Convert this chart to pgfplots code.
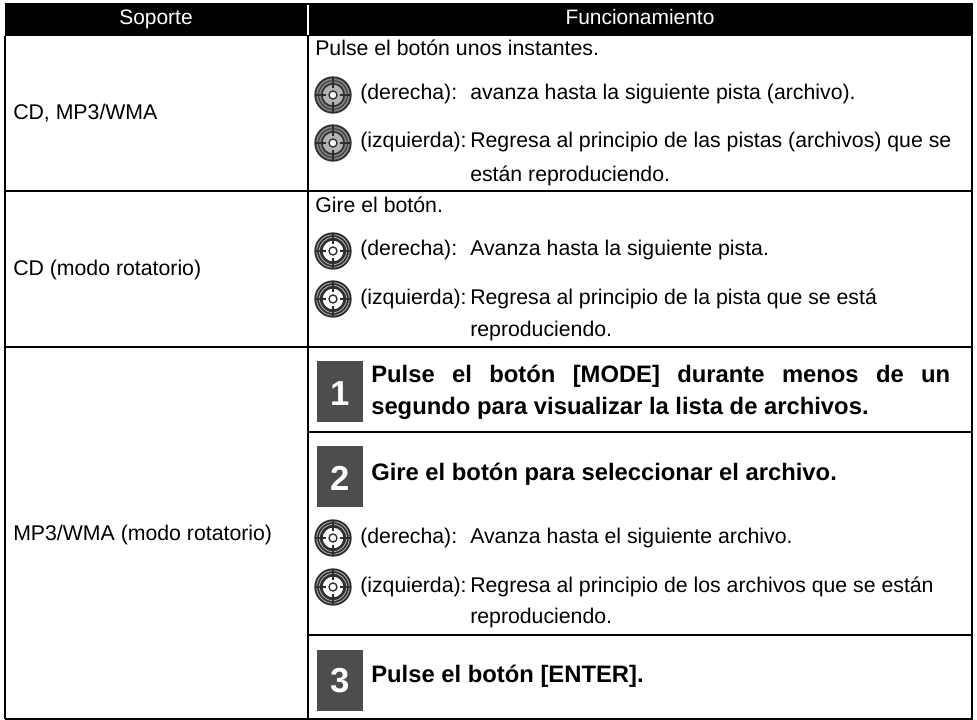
\documentclass[border=0pt]{standalone}
\usepackage{pgfplots}
\usepackage{fontspec}
\setmainfont{Liberation Sans}
\pgfplotsset{compat=1.18}
\definecolor{sq}{HTML}{4D4D4D}
\definecolor{ringd}{HTML}{2E2E2E}
\definecolor{ringg}{HTML}{7F7F7F}
\definecolor{ringl}{HTML}{B5B5B5}
\newcommand{\T}[3]{\node[anchor=base west,inner sep=0pt,font=\fontsize{15.95pt}{18pt}\selectfont,text=black] at (axis cs:#1,#2) {#3};}
\newcommand{\B}[3]{\node[anchor=base west,inner sep=0pt,font=\fontsize{17.85pt}{20pt}\selectfont\bfseries,text=black] at (axis cs:#1,#2) {#3};}
\newcommand{\Num}[2]{\node[anchor=base,inner sep=0pt,font=\fontsize{26pt}{28pt}\selectfont\bfseries,text=white] at (axis cs:340,#1) {#2};}
% grey-ringed icon (first row)
\newcommand{\IconG}[1]{%
 \fill[ringd] (axis cs:333,#1) circle[radius=14pt];
 \fill[ringg] (axis cs:333,#1) circle[radius=12.6pt];
 \draw[ringd,line width=0.6pt] (axis cs:333,#1) circle[radius=10.8pt];
 \fill[gray!60,draw=ringd,line width=1.2pt] (axis cs:333,#1) circle[radius=8.4pt];
 \IconMarks{#1}
}
% dark-ringed icon (other rows)
\newcommand{\IconD}[1]{%
 \fill[ringd] (axis cs:333,#1) circle[radius=14pt];
 \draw[ringl,line width=0.6pt] (axis cs:333,#1) circle[radius=12.2pt];
 \draw[ringl,line width=0.6pt] (axis cs:333,#1) circle[radius=10.2pt];
 \fill[white,draw=ringd,line width=1.2pt] (axis cs:333,#1) circle[radius=8.4pt];
 \IconMarks{#1}
}
\newcommand{\IconMarks}[1]{%
 \draw[ringd,line width=1.2pt] (axis cs:333,#1) ++(0,5.5pt) -- ++(0,7.5pt);
 \draw[ringd,line width=1.2pt] (axis cs:333,#1) ++(0,-5.5pt) -- ++(0,-7.5pt);
 \draw[ringd,line width=1.2pt] (axis cs:333,#1) ++(5.5pt,0) -- ++(7.5pt,0);
 \draw[ringd,line width=1.2pt] (axis cs:333,#1) ++(-5.5pt,0) -- ++(-7.5pt,0);
 \fill[white,draw=ringd,line width=1pt] (axis cs:333,#1) circle[radius=3pt];
}
\begin{document}
\begin{tikzpicture}
\begin{axis}[
  scale only axis, width=732.75pt, height=540pt,
  xmin=0, xmax=977, ymin=0, ymax=720, y dir=reverse,
  clip=false, ticks=none, axis line style={draw=none},
]
\addplot[fill=black,draw=none] coordinates {(4.5,3.2) (972.5,3.2) (972.5,36.5) (4.5,36.5)} -- cycle;
\addplot[white,line width=1.5pt] coordinates {(308,5) (308,35)};
\addplot[black,line width=1.5pt] coordinates {(5,36) (5,719)};
\addplot[black,line width=1.5pt] coordinates {(308,36) (308,719)};
\addplot[black,line width=1.5pt] coordinates {(972,3.5) (972,719)};
\addplot[black,line width=1.5pt] coordinates {(5,190.7) (972,190.7)};
\addplot[black,line width=1.5pt] coordinates {(5,346.7) (972,346.7)};
\addplot[black,line width=1.5pt] coordinates {(308,431.7) (972,431.7)};
\addplot[black,line width=1.5pt] coordinates {(308,635) (972,635)};
\addplot[black,line width=1.2pt] coordinates {(4.5,719) (972.5,719)};
\addplot[fill=sq,draw=none] coordinates {(317,361) (363,361) (363,422) (317,422)} -- cycle;
\addplot[fill=sq,draw=none] coordinates {(317,446) (363,446) (363,507) (317,507)} -- cycle;
\addplot[fill=sq,draw=none] coordinates {(317,650) (363,650) (363,711) (317,711)} -- cycle;
\Num{405}{1}\Num{490}{2}\Num{692}{3}
\node[anchor=base,inner sep=0pt,font=\fontsize{15.7pt}{18pt}\selectfont,text=white] at (axis cs:156,25) {Soporte};
\node[anchor=base,inner sep=0pt,font=\fontsize{15.7pt}{18pt}\selectfont,text=white] at (axis cs:640,25) {Funcionamiento};
\T{13}{120}{CD, MP3/WMA}
\T{13}{275}{CD (modo rotatorio)}
\T{13}{540}{MP3/WMA (modo rotatorio)}
\T{315}{56}{Pulse el botón unos instantes.}
\IconG{95}
\T{360}{100}{(derecha):}
\T{470}{100}{avanza hasta la siguiente pista (archivo).}
\IconG{143}
\T{360}{148}{(izquierda):}
\T{470}{148}{Regresa al principio de las pistas (archivos) que se}
\T{470}{182}{están reproduciendo.}
\T{315}{213}{Gire el botón.}
\IconD{251}
\T{360}{256}{(derecha):}
\T{470}{256}{Avanza hasta la siguiente pista.}
\IconD{299}
\T{360}{304}{(izquierda):}
\T{470}{304}{Regresa al principio de la pista que se está}
\T{470}{336}{reproduciendo.}
\B{371}{382}{\hbox to 434.25pt{Pulse el botón [MODE] durante menos de un}}
\B{371}{414}{segundo para visualizar la lista de archivos.}
\B{371}{480}{Gire el botón para seleccionar el archivo.}
\IconD{538}
\T{360}{543}{(derecha):}
\T{470}{543}{Avanza hasta el siguiente archivo.}
\IconD{587}
\T{360}{592}{(izquierda):}
\T{470}{592}{Regresa al principio de los archivos que se están}
\T{470}{623}{reproduciendo.}
\B{371}{682}{Pulse el botón [ENTER].}
\end{axis}
\end{tikzpicture}
\end{document}
